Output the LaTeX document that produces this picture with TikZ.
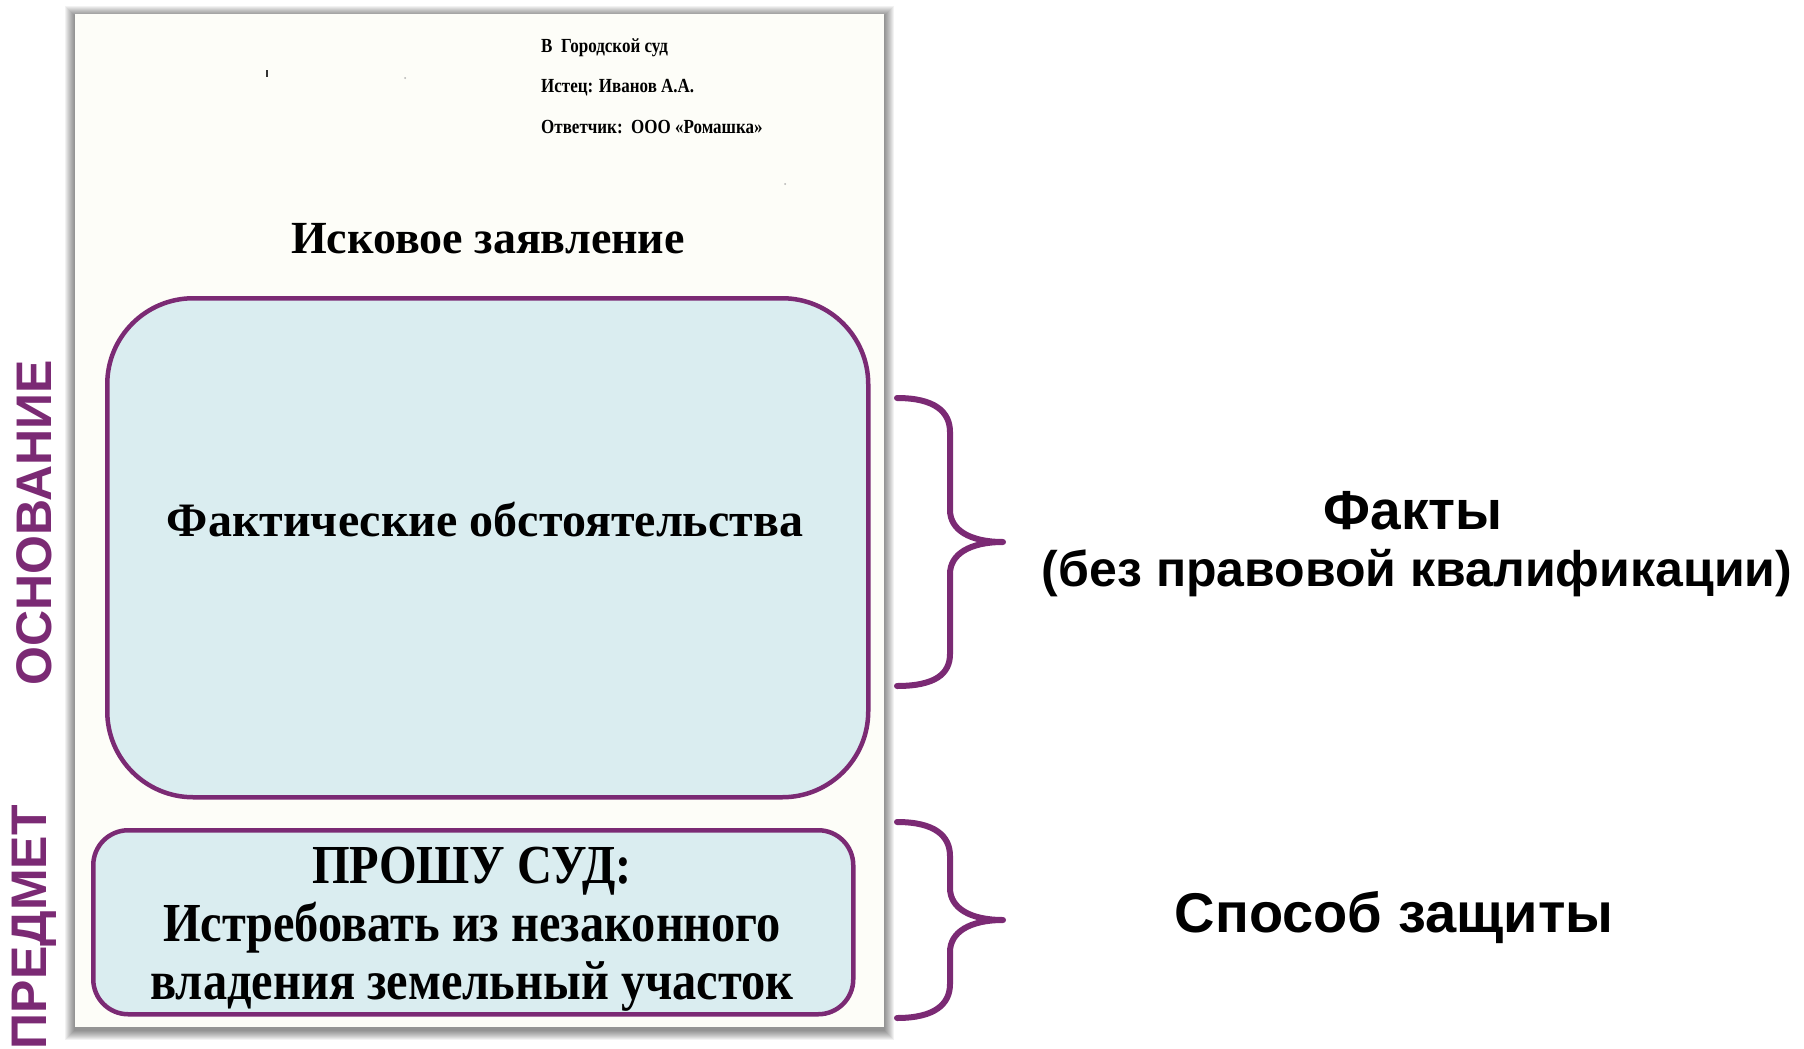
\documentclass[tikz,border=0pt]{standalone}
\usepackage{fontspec}
\usepackage{graphicx}
\setmainfont{Liberation Serif}
\newfontfamily\arialf{Liberation Sans}
\definecolor{purp}{RGB}{123,42,116}
\definecolor{boxfill}{RGB}{218,237,240}
\definecolor{paper}{RGB}{253,253,248}
\tikzset{
  roundbox/.style={draw=purp, line width=4.5pt, fill=boxfill, inner sep=0pt, anchor=north west},
  hdr/.style={anchor=west, inner sep=0pt, font=\fontsize{20}{22}\selectfont\bfseries},
  sidelabel/.style={text=purp, rotate=90, inner sep=0pt, font=\arialf\fontsize{50}{56}\selectfont\bfseries},
  righttext/.style={inner sep=0pt, font=\arialf\fontsize{50}{60}\selectfont\bfseries},
  bracepath/.style={draw=purp, line width=6pt, line cap=round, line join=round},
}
\begin{document}
\begin{tikzpicture}[x=1pt,y=-1pt]
\useasboundingbox (0,0) rectangle (1804,1049);
\fill[white] (0,0) rectangle (1804,1049);
% shadow of the page
\foreach \i in {1,...,10} {
  \fill[black, opacity=0.05] (75-\i,14-\i+2) rectangle (884+\i,1027+\i+3);
}
\node (page) [fill=paper, inner sep=0pt, minimum width=809pt, minimum height=1013pt, anchor=north west] at (75,14) {};
% scan specks
\fill[black!80] (266,70) rectangle (268,77);
\fill[black!30] (405,78) circle (1pt);
\fill[black!30] (785,184) circle (1pt);
% header
\node (court) [hdr] at (541,48) {\scalebox{0.85}[1]{В\ \ Городской суд}};
\node (plaintiff) [hdr] at (541,88) {\scalebox{0.85}[1]{Истец: Иванов А.А.}};
\node (defendant) [hdr] at (541,127) {\scalebox{0.85}[1]{Ответчик:\ \ ООО «Ромашка»}};
\node (title) [inner sep=0pt, font=\fontsize{46}{50}\selectfont\bfseries] at (488,239) {Исковое заявление};
% boxes
\node (factsbox) [roundbox, rounded corners=86pt, minimum width=761pt, minimum height=499pt] at (105,296) {};
\node (factstext) [inner sep=0pt, font=\fontsize{48}{52}\selectfont\bfseries] at (485,520) {Фактические обстоятельства};
\node (claimbox) [roundbox, rounded corners=35pt, minimum width=760pt, minimum height=184pt] at (91,828) {};
\node (claimtext) [inner sep=0pt, align=center, font=\fontsize{55}{58}\selectfont\bfseries] at (472,929)
  {\scalebox{0.88}[1]{ПРОШУ СУД:}\\ \scalebox{0.88}[1]{Истребовать из незаконного}\\ \scalebox{0.88}[1]{владения земельный участок}};
% side labels
\node (osnov) [sidelabel] at (34,523) {ОСНОВАНИЕ};
\node (predmet) [sidelabel, anchor=east] at (34,805) {ПРЕДМЕТ};
% braces
\draw[bracepath] (897,398) .. controls (935,398) and (950,412) .. (950,432) -- (950,510)
  .. controls (950,530) and (970,542) .. (1003,542)
  .. controls (970,542) and (950,554) .. (950,574) -- (950,654)
  .. controls (950,674) and (935,686) .. (897,686);
\draw[bracepath] (897,822) .. controls (935,822) and (950,836) .. (950,856) -- (950,888)
  .. controls (950,908) and (970,920) .. (1003,920)
  .. controls (970,920) and (950,932) .. (950,952) -- (950,984)
  .. controls (950,1004) and (935,1018) .. (897,1018);
% right texts
\node (facts) [righttext, font=\arialf\fontsize{55}{60}\selectfont\bfseries] at (1413,511) {Факты};
\node (nolegal) [righttext] at (1417,573) {(без правовой квалификации)};
\node (remedy) [righttext, font=\arialf\fontsize{56}{60}\selectfont\bfseries] at (1394,918) {Способ защиты};
\end{tikzpicture}
\end{document}
